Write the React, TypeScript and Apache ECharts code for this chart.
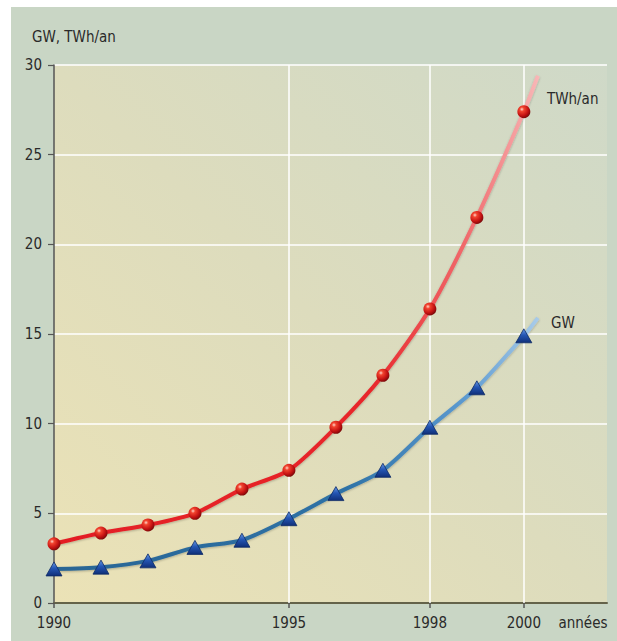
import React, { useEffect, useRef } from "react";
import * as echarts from "echarts";

const years = [1990, 1991, 1992, 1993, 1994, 1995, 1996, 1997, 1998, 1999, 2000];
const twhValues = [3.3, 3.9, 4.35, 5.0, 6.35, 7.4, 9.8, 12.7, 16.4, 21.5, 27.4];
const gwValues = [1.9, 2.0, 2.35, 3.1, 3.5, 4.7, 6.1, 7.4, 9.8, 12.0, 14.9];
const twhEnd = [2000.3, 29.4];
const gwEnd = [2000.3, 15.9];
const xTickYears = [1990, 1995, 1998, 2000];
const xGridYears = [1995, 1998, 2000];
const yAxisName = "GW, TWh/an";
const xAxisName = "années";
const twhName = "TWh/an";
const gwName = "GW";

const FONT = "'Liberation Sans Narrow', 'DejaVu Sans Condensed', 'Arial Narrow', sans-serif";

export default function App() {
  const ref = useRef<HTMLDivElement>(null);
  useEffect(() => {
    if (!ref.current) return;
    const chart = echarts.init(ref.current, null, { renderer: "svg" });

    const twhData: any[] = years.map((y, i) => [y, twhValues[i]]);
    twhData.push({ value: twhEnd, symbol: "none" });
    const gwData: any[] = years.map((y, i) => [y, gwValues[i]]);
    gwData.push({ value: gwEnd, symbol: "none" });

    const sphere = new echarts.graphic.RadialGradient(0.35, 0.32, 0.75, [
      { offset: 0, color: "#ffd6c8" },
      { offset: 0.22, color: "#f2442f" },
      { offset: 0.65, color: "#c41212" },
      { offset: 1, color: "#6e0808" },
    ]);
    const tri = new echarts.graphic.LinearGradient(0, 0, 0, 1, [
      { offset: 0, color: "#6a9ae6" },
      { offset: 0.45, color: "#2456b4" },
      { offset: 1, color: "#102f78" },
    ]);

    chart.setOption({
      animation: false,
      backgroundColor: "#ffffff",
      graphic: [
        {
          type: "rect",
          z: -10,
          shape: { x: 11, y: 7, width: 606, height: 634 },
          style: { fill: "#c9d6c5" },
        },
        {
          type: "text",
          x: 32,
          y: 37,
          style: {
            text: yAxisName,
            font: `15px ${FONT}`,
            fill: "#2a2a2a",
            verticalAlign: "middle",
            align: "left",
          },
        },
        {
          type: "text",
          x: 583,
          y: 623,
          style: {
            text: xAxisName,
            font: `15px ${FONT}`,
            fill: "#2a2a2a",
            verticalAlign: "middle",
            align: "center",
          },
        },
      ],
      grid: {
        left: 54,
        right: 10,
        top: 65,
        bottom: 38,
        show: true,
        borderWidth: 0,
        backgroundColor: new echarts.graphic.LinearGradient(0, 1, 1, 0, [
          { offset: 0, color: "#ebe2b6" },
          { offset: 0.5, color: "#dddcbd" },
          { offset: 1, color: "#cfd9c8" },
        ]),
      },
      xAxis: {
        type: "value",
        min: 1990,
        max: 2001.77,
        interval: 1,
        splitLine: { show: false },
        axisLine: { show: true, onZero: false, lineStyle: { color: "#64634a", width: 2 } },
        axisTick: {
          show: true,
          length: 5,
          customValues: xTickYears,
          lineStyle: { color: "#555", width: 1.5 },
        },
        axisLabel: {
          customValues: xTickYears,
          margin: 12,
          fontFamily: FONT,
          fontSize: 15,
          color: "#2a2a2a",
          formatter: (v: number) => String(v),
        },
      },
      yAxis: {
        type: "value",
        min: 0,
        max: 30,
        interval: 5,
        axisLine: { show: true, lineStyle: { color: "#555", width: 1.5 } },
        axisTick: { show: true, length: 6, lineStyle: { color: "#555", width: 1.2 } },
        axisLabel: {
          margin: 12,
          fontFamily: FONT,
          fontSize: 15,
          color: "#2a2a2a",
        },
        splitLine: { show: true, lineStyle: { color: "#ffffff", width: 1.5 } },
      },
      series: [
        {
          type: "line",
          data: [],
          z: 1,
          silent: true,
          markLine: {
            z: 1,
            silent: true,
            symbol: ["none", "none"],
            label: { show: false },
            lineStyle: { color: "#ffffff", width: 1.5, type: "solid" },
            data: xGridYears.map((y) => ({ xAxis: y })),
          },
        },
        {
          name: gwName,
          type: "line",
          data: gwData,
          smooth: 0.25,
          symbol: "triangle",
          symbolSize: [16, 14],
          z: 3,
          lineStyle: {
            width: 4,
            color: new echarts.graphic.LinearGradient(0, 0, 1, 0, [
              { offset: 0, color: "#2a6594" },
              { offset: 0.6, color: "#2e72a6" },
              { offset: 0.85, color: "#5c9ad0" },
              { offset: 1, color: "#a8cbe9" },
            ]),
            shadowColor: "rgba(0,0,0,0.25)",
            shadowBlur: 2,
            shadowOffsetY: 1,
          },
          itemStyle: { color: tri, borderColor: "#0d2a66", borderWidth: 0.8 },
          endLabel: {
            show: true,
            formatter: gwName,
            offset: [5, 5],
            fontFamily: FONT,
            fontSize: 15,
            color: "#2a2a2a",
          },
        },
        {
          name: twhName,
          type: "line",
          data: twhData,
          smooth: 0.25,
          symbol: "circle",
          symbolSize: 13,
          z: 4,
          lineStyle: {
            width: 4,
            color: new echarts.graphic.LinearGradient(0, 0, 1, 0, [
              { offset: 0, color: "#e31e24" },
              { offset: 0.65, color: "#e8262a" },
              { offset: 0.85, color: "#f06a6c" },
              { offset: 1, color: "#f8b6b6" },
            ]),
            shadowColor: "rgba(0,0,0,0.25)",
            shadowBlur: 2,
            shadowOffsetY: 1,
          },
          itemStyle: { color: sphere },
          endLabel: {
            show: true,
            formatter: twhName,
            offset: [1, 23],
            fontFamily: FONT,
            fontSize: 15,
            color: "#2a2a2a",
          },
        },
      ],
    });
    return () => chart.dispose();
  }, []);
  return (
    <div
      ref={ref}
      style={{ position: "fixed", left: 0, top: 0, width: 617, height: 641 }}
    />
  );
}
